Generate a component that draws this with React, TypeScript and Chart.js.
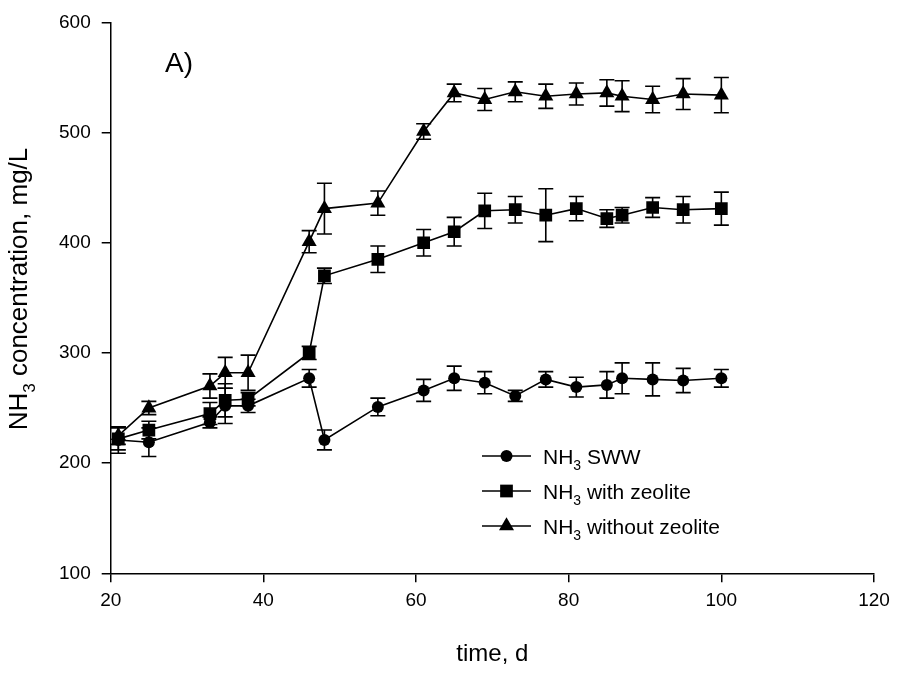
import React, { useEffect, useRef } from "react";
import { Chart, registerables } from "chart.js";
import { drawPoint } from "chart.js/helpers";

Chart.register(...registerables);

// Sampling days
const days = [21, 25, 33, 35, 38, 46, 48, 55, 61, 65, 69, 73, 77, 81, 85, 87, 91, 95, 100];

// NH3 in synthetic wastewater (mg/L) and standard deviations
const swwValues = [221, 219, 237, 252, 252, 277, 221, 251, 266, 277, 273, 261, 276, 269, 271, 277, 276, 275, 277];
const swwErrors = [12, 13, 5, 16, 6, 8, 9, 8, 10, 11, 10, 5, 7, 9, 12, 14, 15, 11, 8];

// NH3 with zeolite (mg/L)
const zeoliteValues = [222, 230, 245, 257, 258, 300, 370, 385, 400, 410, 429, 430, 425, 431, 422, 425, 432, 430, 431];
const zeoliteErrors = [10, 8, 10, 15, 6, 6, 7, 12, 12, 13, 16, 12, 24, 11, 8, 7, 9, 12, 15];

// NH3 without zeolite (mg/L)
const noZeoliteValues = [225, 250, 270, 282, 282, 401, 431, 436, 501, 536, 530, 537, 533, 535, 536, 533, 530, 535, 534];
const noZeoliteErrors = [8, 6, 11, 14, 16, 10, 23, 11, 7, 8, 10, 9, 11, 10, 12, 14, 12, 14, 16];

const xTicks = [20, 40, 60, 80, 100, 120];
const yTicks = [100, 200, 300, 400, 500, 600];

const seriesNames = ["SWW", "with zeolite", "without zeolite"];

const FONT = "'Liberation Sans', Arial, Helvetica, sans-serif";

type Series = {
  name: string;
  values: number[];
  errors: number[];
  style: "circle" | "rect" | "triangle";
  radius: number;
};

const series: Series[] = [
  { name: seriesNames[0], values: swwValues, errors: swwErrors, style: "circle", radius: 6 },
  { name: seriesNames[1], values: zeoliteValues, errors: zeoliteErrors, style: "rect", radius: 9 },
  { name: seriesNames[2], values: noZeoliteValues, errors: noZeoliteErrors, style: "triangle", radius: 8.7 },
];

// Error bars with caps
const errorBarPlugin = {
  id: "errorBars",
  afterDatasetsDraw(chart: any) {
    const ctx = chart.ctx;
    const xs = chart.scales.x;
    const ys = chart.scales.y;
    ctx.save();
    ctx.strokeStyle = "#000";
    ctx.lineWidth = 1.6;
    series.forEach((s) => {
      days.forEach((d, i) => {
        const px = xs.getPixelForValue(d);
        const top = ys.getPixelForValue(s.values[i] + s.errors[i]);
        const bot = ys.getPixelForValue(s.values[i] - s.errors[i]);
        const cap = 7.5;
        ctx.beginPath();
        ctx.moveTo(px, top);
        ctx.lineTo(px, bot);
        ctx.moveTo(px - cap, top);
        ctx.lineTo(px + cap, top);
        ctx.moveTo(px - cap, bot);
        ctx.lineTo(px + cap, bot);
        ctx.stroke();
      });
    });
    ctx.restore();
  },
};

// NH3 text with subscript "3", drawn left to right from x at baseline y
function drawNH3(ctx: CanvasRenderingContext2D, x: number, y: number, size: number, rest: string) {
  ctx.font = `${size}px ${FONT}`;
  ctx.fillText("NH", x, y);
  let cx = x + ctx.measureText("NH").width;
  const sub = Math.round(size * 0.66);
  ctx.font = `${sub}px ${FONT}`;
  ctx.fillText("3", cx, y + size * 0.3);
  cx += ctx.measureText("3").width;
  ctx.font = `${size}px ${FONT}`;
  ctx.fillText(rest, cx, y);
}

function widthNH3(ctx: CanvasRenderingContext2D, size: number, rest: string) {
  ctx.font = `${size}px ${FONT}`;
  let w = ctx.measureText("NH").width + ctx.measureText(rest).width;
  ctx.font = `${Math.round(size * 0.66)}px ${FONT}`;
  w += ctx.measureText("3").width;
  return w;
}

// Titles, panel label and legend
const annotationPlugin = {
  id: "annotations",
  afterDraw(chart: any) {
    const ctx: CanvasRenderingContext2D = chart.ctx;
    const area = chart.chartArea;
    ctx.save();
    ctx.fillStyle = "#000";
    ctx.textBaseline = "alphabetic";
    ctx.textAlign = "left";

    // Panel label
    ctx.font = `28px ${FONT}`;
    ctx.fillText("A)", 165, 72);

    // X axis title
    ctx.font = `24px ${FONT}`;
    ctx.textAlign = "center";
    ctx.fillText("time, d", (area.left + area.right) / 2, 661);
    ctx.textAlign = "left";

    // Y axis title (rotated)
    const ySize = 26;
    const yRest = " concentration, mg/L";
    const yW = widthNH3(ctx, ySize, yRest);
    ctx.save();
    ctx.translate(27, 289);
    ctx.rotate(-Math.PI / 2);
    drawNH3(ctx, -yW / 2, 0, ySize, yRest);
    ctx.restore();

    // Legend
    const rows = [456, 491, 526];
    series.forEach((s, i) => {
      const y = rows[i];
      ctx.strokeStyle = "#000";
      ctx.lineWidth = 1.6;
      ctx.beginPath();
      ctx.moveTo(482, y);
      ctx.lineTo(531, y);
      ctx.stroke();
      drawPoint(ctx, { pointStyle: s.style, radius: s.radius, rotation: 0, borderWidth: 0 } as any, 506.5, y);
      ctx.fillStyle = "#000";
      drawNH3(ctx, 543, y + 7.5, 21, " " + s.name);
    });
    ctx.restore();
  },
};

export default function App() {
  const canvasRef = useRef<HTMLCanvasElement | null>(null);

  useEffect(() => {
    const canvas = canvasRef.current;
    if (!canvas) return;
    const chart = new Chart(canvas, {
      type: "line",
      data: {
        datasets: series.map((s) => ({
          label: "NH3 " + s.name,
          data: days.map((d, i) => ({ x: d, y: s.values[i] })),
          borderColor: "#000",
          backgroundColor: "#000",
          borderWidth: 1.6,
          pointStyle: s.style,
          pointRadius: s.radius,
          pointBorderWidth: 0,
          pointBackgroundColor: "#000",
          tension: 0,
        })),
      },
      options: {
        responsive: false,
        animation: false,
        devicePixelRatio: 1,
        layout: { padding: { top: 22.3, right: 24, left: 0, bottom: 0 } },
        plugins: {
          legend: { display: false },
          tooltip: { enabled: false },
          title: { display: false },
        },
        scales: {
          x: {
            type: "linear",
            min: 20,
            max: 120,
            afterBuildTicks: (scale: any) => {
              scale.ticks = xTicks.map((v) => ({ value: v }));
            },
            afterFit: (scale: any) => {
              scale.height = 675 - 573.3;
            },
            ticks: {
              color: "#000",
              font: { family: FONT, size: 19 },
              padding: 7,
              maxRotation: 0,
            },
            grid: {
              display: true,
              drawOnChartArea: false,
              drawTicks: true,
              tickLength: 9,
              color: "#000",
              lineWidth: 1.5,
            },
            border: { display: true, color: "#000", width: 1.5 },
          },
          y: {
            type: "linear",
            min: 100,
            max: 600,
            afterBuildTicks: (scale: any) => {
              scale.ticks = yTicks.map((v) => ({ value: v }));
            },
            afterFit: (scale: any) => {
              scale.width = 110.7;
            },
            ticks: {
              color: "#000",
              font: { family: FONT, size: 19 },
              padding: 11,
            },
            grid: {
              display: true,
              drawOnChartArea: false,
              drawTicks: true,
              tickLength: 9,
              color: "#000",
              lineWidth: 1.5,
            },
            border: { display: true, color: "#000", width: 1.5 },
          },
        },
      },
      plugins: [errorBarPlugin, annotationPlugin],
    });
    return () => chart.destroy();
  }, []);

  return (
    <div style={{ position: "fixed", left: 0, top: 0, width: 898, height: 675, background: "#fff" }}>
      <canvas ref={canvasRef} width={898} height={675} style={{ display: "block" }} />
    </div>
  );
}
